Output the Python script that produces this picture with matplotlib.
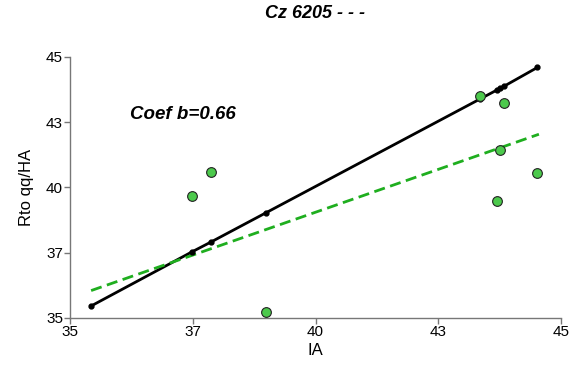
import matplotlib
matplotlib.use("Agg")
import matplotlib.pyplot as plt

plt.rcParams["font.family"] = ["Liberation Sans", "DejaVu Sans"]

# observed values (green)
obs_x = [37.48, 37.87, 38.99, 43.35, 43.84, 43.76, 44.52, 43.70]
obs_y = [39.69, 40.61, 35.24, 43.51, 43.24, 41.43, 40.54, 39.48]

# fitted 1:1 line points (black)
fit_x = [35.43, 37.48, 37.87, 38.99, 43.35, 43.70, 43.76, 43.84, 44.52]
fit_y = [35.46, 37.53, 37.91, 39.03, 43.39, 43.74, 43.80, 43.88, 44.60]

# regression line (green dashed)
reg_x = [35.43, 44.55]
reg_y = [36.05, 42.04]

tick_vals = [35, 37.5, 40, 42.5, 45]
tick_labels = ["35", "37", "40", "43", "45"]

fig = plt.figure(figsize=(5.71, 3.72), dpi=100)
ax = fig.add_axes([0.1226, 0.1452, 0.8599, 0.7016])

ax.plot(fit_x, fit_y, "-", color="black", lw=2, zorder=2)
ax.plot(fit_x, fit_y, "o", color="black", ms=3.5, zorder=3)
ax.plot(reg_x, reg_y, "--", color="#1fae1f", lw=2, dashes=(4, 2), zorder=2)
ax.plot(obs_x, obs_y, "o", ms=7, mfc="#4cc94c", mec="#222222", mew=0.8,
        linestyle="none", zorder=4)

ax.text(36.22, 42.78, "Coef b=0.66", fontsize=13.5, fontweight="bold",
        fontstyle="italic", ha="left", va="center")

ax.set_xlim(35, 45)
ax.set_ylim(35, 45)
ax.set_xticks(tick_vals)
ax.set_xticklabels(tick_labels)
ax.set_yticks(tick_vals)
ax.set_yticklabels(tick_labels)
ax.tick_params(labelsize=11, length=4, width=1, color="#777777", pad=1)

for s in ["top", "right"]:
    ax.spines[s].set_visible(False)
for s in ["left", "bottom"]:
    ax.spines[s].set_color("#777777")
    ax.spines[s].set_linewidth(1)

ax.set_xlabel("IA", fontsize=12, labelpad=3)
ax.set_ylabel("Rto qq/HA", fontsize=12, labelpad=9)
fig.text(0.552, 0.965, "Cz 6205 - - -", fontsize=13, fontweight="bold",
         fontstyle="italic", ha="center", va="center")

fig.savefig("out.png", dpi=100)
